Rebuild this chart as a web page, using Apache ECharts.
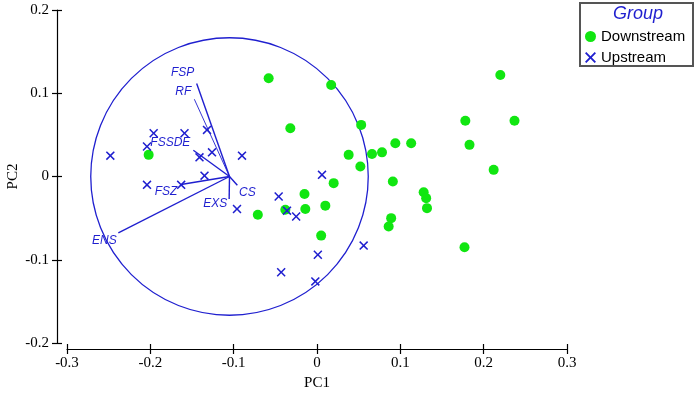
<!DOCTYPE html>
<html>
<head>
<meta charset="utf-8">
<script src="https://cdn.jsdelivr.net/npm/echarts@6/dist/echarts.min.js"></script>
<style>html,body{margin:0;padding:0;background:#fff;}#chart{width:699px;height:393px;}</style>
</head>
<body>
<div id="chart"></div>
<script>
// ---- data ----
const downPC1 = [-0.202, -0.071, -0.038, -0.015, -0.014, 0.010, 0.020, 0.005, 0.038, -0.058, 0.017, -0.032, 0.053, 0.066, 0.078, 0.094, 0.113, 0.052, 0.091, 0.128, 0.131, 0.132, 0.089, 0.086, 0.177, 0.220, 0.178, 0.237, 0.183, 0.212];
const downPC2 = [0.026, -0.046, -0.040, -0.021, -0.039, -0.035, -0.008, -0.071, 0.026, 0.118, 0.110, 0.058, 0.062, 0.027, 0.029, 0.040, 0.040, 0.012, -0.006, -0.019, -0.026, -0.038, -0.050, -0.060, -0.085, 0.122, 0.067, 0.067, 0.038, 0.008];
const upPC1 = [-0.248, -0.196, -0.204, -0.159, -0.132, -0.141, -0.126, -0.090, -0.135, -0.204, -0.163, -0.096, -0.046, 0.006, -0.036, -0.025, 0.001, -0.043, -0.002, 0.056];
const upPC2 = [0.025, 0.052, 0.036, 0.052, 0.056, 0.023, 0.029, 0.025, 0.001, -0.010, -0.010, -0.039, -0.024, 0.002, -0.041, -0.048, -0.094, -0.115, -0.126, -0.083];
const vecNames = ['FSP', 'RF', 'FSSDE', 'FSZ', 'ENS', 'EXS', 'CS'];
const vecPC1 = [-0.1444, -0.1472, -0.1484, -0.1632, -0.2384, -0.1054, -0.0956];
const vecPC2 = [0.1116, 0.0928, 0.0316, -0.0096, -0.0677, -0.0270, -0.0106];
const vecOrigin = [-0.105, 0];
const circle = [-0.105, 0, 0.1665]; // centre x, centre y, radius
const xTicks = [-0.3, 0.3, 0.1]; // min, max, interval
const yTicks = [-0.2, 0.2, 0.1];

// ---- presentation ----
const BLUE = '#1f1fcf';
const GREEN = '#11e611';
const serif = '"Times New Roman","Liberation Serif",serif';
const sans = 'Arial,"Liberation Sans",sans-serif';
const labelOffsets = [[-14, -11], [-11, -8], [-23, -8], [-15, 7], [-14, 8], [-14, 5], [10, 7]];
const xPath = 'path://M0,1.2L1.2,0L5,3.8L8.8,0L10,1.2L6.2,5L10,8.8L8.8,10L5,6.2L1.2,10L0,8.8L3.8,5Z';

const chart = echarts.init(document.getElementById('chart'), null, {renderer: 'canvas'});

const tickStyle = {color: '#000', width: 1.2};
const fmt = v => (Math.round(v * 10) / 10).toString();
const option = {
  animation: false,
  backgroundColor: '#fff',
  grid: {left: 67, right: 132, top: 10, bottom: 50, containLabel: false, outerBoundsMode: 'none'},
  xAxis: [
    {
      type: 'value', splitLine: {show: false},
      min: xTicks[0], max: xTicks[1], interval: xTicks[2], offset: 6, position: 'bottom',
      name: 'PC1', nameLocation: 'middle', nameGap: 27, nameMoveOverlap: false,
      nameTextStyle: {fontFamily: serif, fontSize: 15, color: '#000'},
      axisLine: {show: true, onZero: false, lineStyle: {color: '#000', width: 1.2}},
      axisTick: {show: true, inside: false, length: 5, lineStyle: tickStyle},
      axisLabel: {fontFamily: serif, fontSize: 15, color: '#000', margin: 7, formatter: fmt}
    },
    {
      type: 'value', splitLine: {show: false},
      min: xTicks[0], max: xTicks[1], interval: xTicks[2], offset: 6, position: 'bottom',
      axisLine: {show: false, onZero: false},
      axisTick: {show: true, inside: true, length: 5, lineStyle: tickStyle},
      axisLabel: {show: false}
    }
  ],
  yAxis: [
    {
      type: 'value', splitLine: {show: false},
      min: yTicks[0], max: yTicks[1], interval: yTicks[2], offset: 10, position: 'left',
      name: 'PC2', nameLocation: 'middle', nameGap: 36, nameRotate: 90, nameMoveOverlap: false,
      nameTextStyle: {fontFamily: serif, fontSize: 15, color: '#000'},
      axisLine: {show: true, onZero: false, lineStyle: {color: '#000', width: 1.2}},
      axisTick: {show: true, inside: false, length: 5, lineStyle: tickStyle},
      axisLabel: {fontFamily: serif, fontSize: 15, color: '#000', margin: 8, formatter: fmt}
    },
    {
      type: 'value', splitLine: {show: false},
      min: yTicks[0], max: yTicks[1], interval: yTicks[2], offset: 10, position: 'left',
      axisLine: {show: false, onZero: false},
      axisTick: {show: true, inside: true, length: 5, lineStyle: tickStyle},
      axisLabel: {show: false}
    }
  ],
  legend: {
    orient: 'vertical', left: 585, top: 29, padding: 0,
    itemWidth: 11, itemHeight: 11, itemGap: 6, itemTextGap: 11,
    textStyle: {fontFamily: sans, fontSize: 15, color: '#000'},
    data: ['Downstream', 'Upstream']
  },
  graphic: [
    {type: 'rect', shape: {x: 580, y: 3, width: 113, height: 63}, style: {fill: '#fff', stroke: '#555', lineWidth: 2}, z: 0},
    {type: 'text', x: 638, y: 14, z: 10, style: {text: 'Group', fill: BLUE, font: 'italic 18px ' + sans, textAlign: 'center', textVerticalAlign: 'middle'}}
  ],
  series: [
    {
      type: 'custom', silent: true, z: 1,
      data: [circle],
      renderItem: function (params, api) {
        const c = api.coord([api.value(0), api.value(1)]);
        const r = api.size([api.value(2), api.value(2)]);
        return {type: 'circle', shape: {cx: c[0], cy: c[1], r: r[0]},
          style: {fill: 'none', stroke: BLUE, lineWidth: 1.3}};
      },
      clip: false
    },
    {
      type: 'lines', coordinateSystem: 'cartesian2d', silent: true, z: 2,
      lineStyle: {color: BLUE, width: 1.4, opacity: 1},
      data: vecNames.map((n, i) => ({
        coords: [vecOrigin, [vecPC1[i], vecPC2[i]]],
        lineStyle: n === 'RF' ? {width: 0.9, color: BLUE, opacity: 1} : {color: BLUE, opacity: 1}
      }))
    },
    {
      type: 'scatter', silent: true, z: 3, symbolSize: 1,
      itemStyle: {color: 'rgba(0,0,0,0)', opacity: 1},
      data: vecNames.map((n, i) => ({
        value: [vecPC1[i], vecPC2[i]],
        label: {show: true, formatter: n, position: 'inside', offset: labelOffsets[i],
          color: BLUE, fontStyle: 'italic', fontFamily: sans, fontSize: 12}
      }))
    },
    {
      name: 'Downstream', type: 'scatter', symbol: 'circle', symbolSize: 10, z: 4,
      itemStyle: {color: GREEN, opacity: 1},
      data: downPC1.map((x, i) => [x, downPC2[i]])
    },
    {
      name: 'Upstream', type: 'scatter', symbol: xPath, symbolSize: 9, z: 5,
      itemStyle: {color: BLUE, opacity: 1},
      data: upPC1.map((x, i) => [x, upPC2[i]])
    }
  ]
};
chart.setOption(option);
</script>
</body>
</html>
